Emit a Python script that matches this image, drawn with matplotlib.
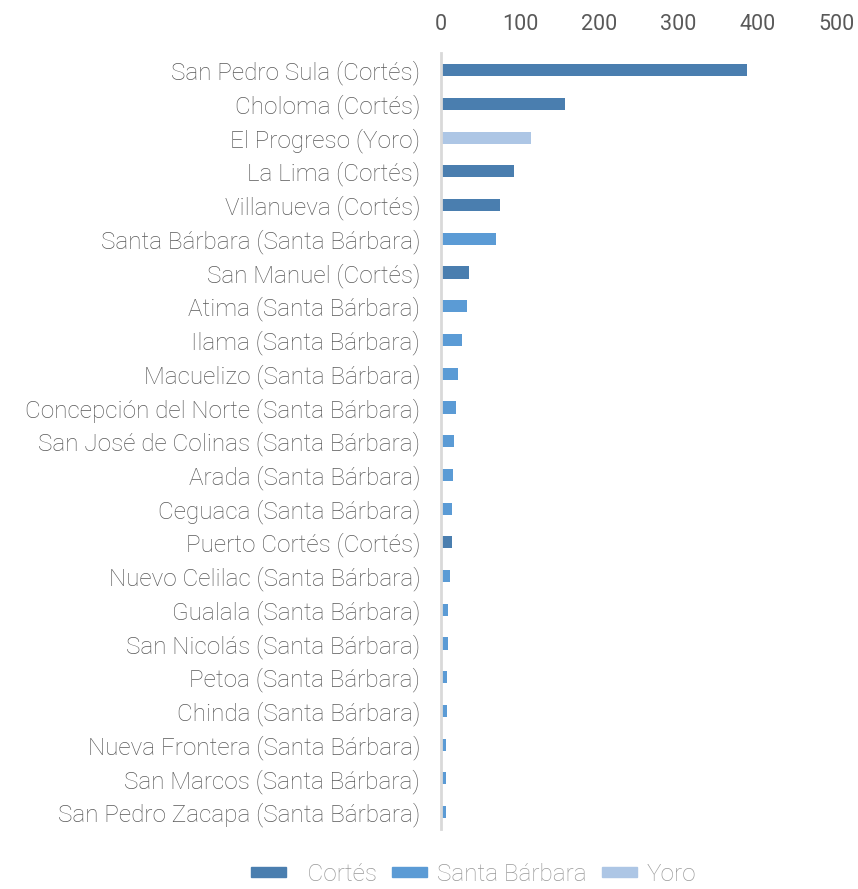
import matplotlib.pyplot as plt
from matplotlib.patches import Patch

cities = ["San Pedro Sula (Cortés)", "Choloma (Cortés)", "El Progreso (Yoro)",
          "La Lima (Cortés)", "Villanueva (Cortés)", "Santa Bárbara (Santa Bárbara)",
          "San Manuel (Cortés)", "Atima (Santa Bárbara)", "Ilama (Santa Bárbara)",
          "Macuelizo (Santa Bárbara)", "Concepción del Norte (Santa Bárbara)",
          "San José de Colinas (Santa Bárbara)", "Arada (Santa Bárbara)",
          "Ceguaca (Santa Bárbara)", "Puerto Cortés (Cortés)",
          "Nuevo Celilac (Santa Bárbara)", "Gualala (Santa Bárbara)",
          "San Nicolás (Santa Bárbara)", "Petoa (Santa Bárbara)",
          "Chinda (Santa Bárbara)", "Nueva Frontera (Santa Bárbara)",
          "San Marcos (Santa Bárbara)", "San Pedro Zacapa (Santa Bárbara)"]
values = [387, 156, 114, 92, 75, 70, 35, 32.5, 26, 21, 18.5, 16.5, 15, 13.5, 14,
          11, 9, 9, 8, 7, 6, 6, 6]
depts = ["Cortés", "Cortés", "Yoro", "Cortés", "Cortés", "Santa Bárbara", "Cortés",
         "Santa Bárbara", "Santa Bárbara", "Santa Bárbara", "Santa Bárbara",
         "Santa Bárbara", "Santa Bárbara", "Santa Bárbara", "Cortés",
         "Santa Bárbara", "Santa Bárbara", "Santa Bárbara", "Santa Bárbara",
         "Santa Bárbara", "Santa Bárbara", "Santa Bárbara", "Santa Bárbara"]
dept_colors = {"Cortés": "#4a7eaf", "Santa Bárbara": "#5b9bd5", "Yoro": "#adc6e5"}

plt.rcParams['font.family'] = ['Roboto', 'DejaVu Sans']
plt.rcParams['font.weight'] = 'light'

fig = plt.figure(figsize=(8.58, 8.89), dpi=100)
ax = fig.add_axes([0.514, 0.0675, 0.4615, 0.8725])

y = list(range(len(cities)))
ax.barh(y, values, height=0.36, color=[dept_colors[d] for d in depts])
ax.set_ylim(len(cities) - 0.5, -0.5)
ax.set_xlim(0, 500)
ax.set_yticks(y)
ax.set_yticklabels(cities, fontsize=17.5, color='#595959', fontweight='light')
ax.xaxis.tick_top()
ax.set_xticks([0, 100, 200, 300, 400, 500])
ax.set_xticklabels(['0', '100', '200', '300', '400', '500'], fontsize=15.5,
                   color='#595959', fontweight='normal')
ax.tick_params(axis='x', length=0, pad=13)
ax.tick_params(axis='y', length=0, pad=15)
for s in ['top', 'right', 'bottom']:
    ax.spines[s].set_visible(False)
ax.spines['left'].set_color('#d9d9d9')
ax.spines['left'].set_linewidth(2)

handles = [Patch(color=dept_colors[d]) for d in dept_colors]
labels = ["  Cortés", "Santa Bárbara", "Yoro"]
leg = fig.legend(handles, labels, loc='lower center', ncol=3,
                 bbox_to_anchor=(0.552, -0.021), frameon=False, fontsize=17.5,
                 handlelength=1.42, handleheight=0.25, columnspacing=0.65,
                 handletextpad=0.4)
for t in leg.get_texts():
    t.set_color('#999999')

fig.savefig('out.png', dpi=100)
